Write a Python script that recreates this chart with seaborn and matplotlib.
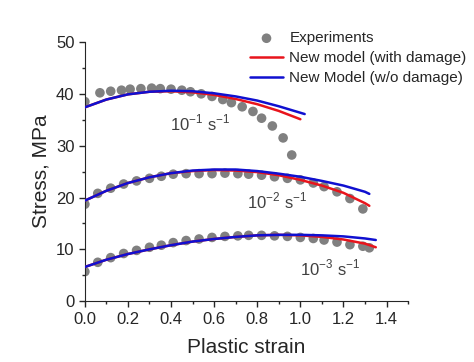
import pandas as pd
import matplotlib.pyplot as plt
from matplotlib.ticker import MultipleLocator
import seaborn as sns

# Experimental points, strain rate 1e-1 s^-1
exp1_strain = [0.00, 0.07, 0.12, 0.17, 0.21, 0.26, 0.31, 0.35, 0.40, 0.45, 0.49,
               0.54, 0.59, 0.64, 0.68, 0.73, 0.78, 0.82, 0.87, 0.92, 0.96]
exp1_stress = [38.5, 40.2, 40.5, 40.7, 40.9, 41.0, 41.1, 41.0, 40.9, 40.7, 40.4,
               40.0, 39.5, 38.9, 38.3, 37.5, 36.6, 35.3, 33.8, 31.5, 28.2]

# strain rate 1e-2 s^-1
exp2_strain = [0.00, 0.06, 0.12, 0.18, 0.24, 0.30, 0.355, 0.41, 0.47, 0.53, 0.59, 0.65,
               0.71, 0.76, 0.82, 0.88, 0.94, 1.00, 1.06, 1.11, 1.17, 1.23, 1.29]
exp2_stress = [18.7, 20.8, 21.8, 22.6, 23.2, 23.7, 24.1, 24.5, 24.6, 24.6, 24.6, 24.7,
               24.6, 24.5, 24.3, 24.0, 23.7, 23.4, 22.8, 22.1, 21.1, 19.8, 17.8]

# strain rate 1e-3 s^-1
exp3_strain = [0.00, 0.06, 0.12, 0.18, 0.24, 0.30, 0.355, 0.41, 0.47, 0.53, 0.59, 0.65,
               0.71, 0.76, 0.82, 0.88, 0.94, 1.00, 1.06, 1.11, 1.17, 1.23, 1.29, 1.32]
exp3_stress = [5.7, 7.5, 8.4, 9.2, 9.8, 10.4, 10.8, 11.3, 11.7, 12.0, 12.3, 12.5,
               12.6, 12.7, 12.7, 12.6, 12.5, 12.3, 12.1, 11.8, 11.4, 10.9, 10.6, 10.3]

# model curves
m1_strain = [0.0, 0.1, 0.2, 0.3, 0.4, 0.5, 0.6, 0.7, 0.8, 0.9, 1.0]
m1_damage = [37.4, 38.9, 39.9, 40.4, 40.5, 40.3, 39.8, 39.0, 38.0, 36.7, 35.1]
m1b_strain = [0.0, 0.1, 0.2, 0.3, 0.4, 0.5, 0.6, 0.7, 0.8, 0.9, 1.02]
m1_nodamage = [37.4, 38.9, 39.9, 40.4, 40.6, 40.5, 40.1, 39.5, 38.7, 37.6, 36.1]

m2_strain = [0.0, 0.1, 0.2, 0.3, 0.4, 0.5, 0.6, 0.7, 0.8, 0.9, 1.0, 1.1, 1.2, 1.3, 1.32]
m2_damage = [19.4, 21.3, 22.8, 23.9, 24.7, 25.1, 25.3, 25.2, 24.9, 24.3, 23.4, 22.3, 20.9, 18.9, 18.4]
m2_nodamage = [19.4, 21.3, 22.8, 23.9, 24.7, 25.2, 25.4, 25.4, 25.1, 24.6, 24.0, 23.2, 22.3, 21.1, 20.7]

m3_strain = [0.0, 0.1, 0.2, 0.3, 0.4, 0.5, 0.6, 0.7, 0.8, 0.9, 1.0, 1.1, 1.2, 1.3, 1.35]
m3_damage = [6.6, 8.0, 9.1, 10.0, 10.8, 11.5, 12.0, 12.4, 12.7, 12.8, 12.7, 12.4, 11.9, 11.1, 10.4]
m3_nodamage = [6.6, 8.0, 9.1, 10.0, 10.8, 11.5, 12.0, 12.4, 12.7, 12.8, 12.8, 12.7, 12.5, 12.1, 11.8]

rate_labels = ["10$^{-1}$ s$^{-1}$", "10$^{-2}$ s$^{-1}$", "10$^{-3}$ s$^{-1}$"]
label_pos = [(0.535, 34.4), (0.89, 19.3), (1.14, 6.4)]


def main():
    sns.set_style("ticks")
    plt.rcParams['font.family'] = ['Liberation Sans', 'DejaVu Sans']
    plt.rcParams['mathtext.fontset'] = 'custom'
    plt.rcParams['mathtext.rm'] = 'Liberation Sans'

    exp = pd.concat([
        pd.DataFrame({"strain": exp1_strain, "stress": exp1_stress, "rate": "1"}),
        pd.DataFrame({"strain": exp2_strain, "stress": exp2_stress, "rate": "2"}),
        pd.DataFrame({"strain": exp3_strain, "stress": exp3_stress, "rate": "3"}),
    ], ignore_index=True)

    fig = plt.figure(figsize=(4.74, 3.62), dpi=100)
    ax = fig.add_axes([0.179, 0.168, 0.682, 0.716])

    sns.scatterplot(data=exp, x="strain", y="stress", ax=ax, color="#808080",
                    s=48, edgecolor="none", label="Experiments", zorder=2)

    curves = [
        (m1_strain, m1_damage, m1b_strain, m1_nodamage),
        (m2_strain, m2_damage, m2_strain, m2_nodamage),
        (m3_strain, m3_damage, m3_strain, m3_nodamage),
    ]
    for i, (xd, yd, xn, yn) in enumerate(curves):
        sns.lineplot(x=xd, y=yd, ax=ax, color="#e8141c", lw=1.8, zorder=3,
                     label="New model (with damage)" if i == 0 else None)
        sns.lineplot(x=xn, y=yn, ax=ax, color="#1010d0", lw=1.8, zorder=4,
                     label="New Model (w/o damage)" if i == 0 else None)

    for txt, (px, py) in zip(rate_labels, label_pos):
        ax.text(px, py, txt, ha="center", va="center", fontsize=12, color="#404040")

    ax.set_xlim(0, 1.5)
    ax.set_ylim(0, 50)
    ax.set_xticks([0, 0.2, 0.4, 0.6, 0.8, 1.0, 1.2, 1.4])
    ax.set_xticklabels(["0.0", "0.2", "0.4", "0.6", "0.8", "1.0", "1.2", "1.4"])
    ax.xaxis.set_minor_locator(MultipleLocator(0.1))
    ax.yaxis.set_minor_locator(MultipleLocator(5))
    ax.tick_params(which="major", length=4, width=1, labelsize=12, direction="out")
    ax.tick_params(which="minor", length=2.5, width=1, direction="out")
    ax.set_xlabel("Plastic strain", fontsize=15, labelpad=8)
    ax.set_ylabel("Stress, MPa", fontsize=15)
    for side in ["top", "right"]:
        ax.spines[side].set_visible(False)

    ax.legend(loc="upper right", bbox_to_anchor=(1.2, 1.065), frameon=False,
              fontsize=11, handlelength=2.2, handletextpad=0.4,
              labelspacing=0.4, borderaxespad=0)

    fig.savefig("out.png", dpi=100, facecolor="white")


if __name__ == "__main__":
    main()
